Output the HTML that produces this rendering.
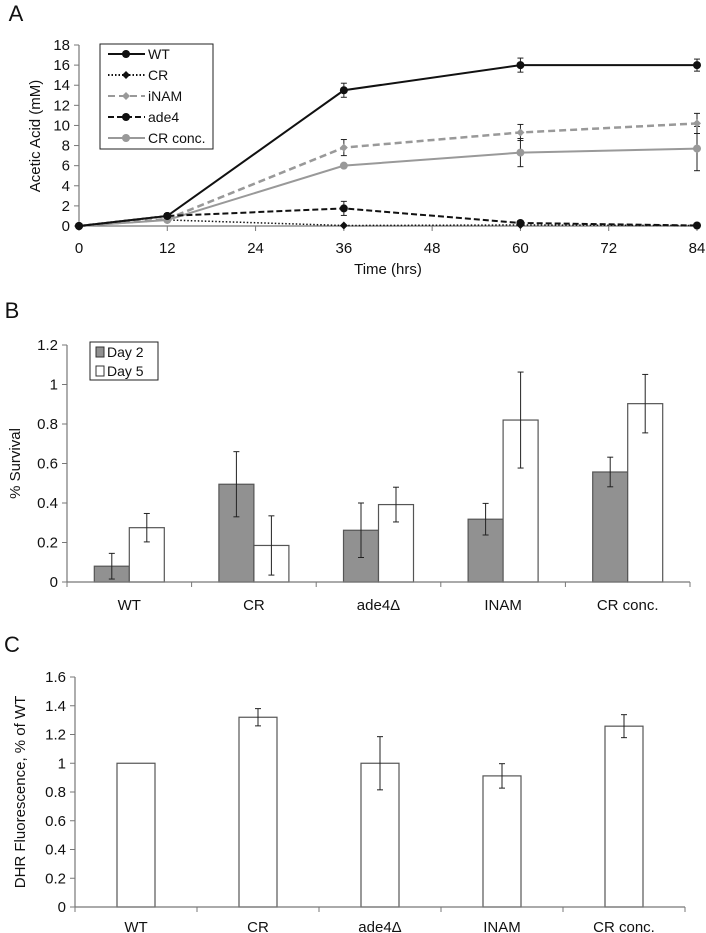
<!DOCTYPE html>
<html><head><meta charset="utf-8"><style>
body{margin:0;background:#fff}
svg{display:block;font-family:"Liberation Sans",sans-serif}
text{fill:#111}
</style></head><body>
<svg id="fig" width="706" height="933" viewBox="0 0 706 933" xmlns="http://www.w3.org/2000/svg">
<g id="A"></g>
<g id="B"></g>
<g id="C"></g>
</svg>
<script>
// Panel A data
const timesA = [0, 12, 36, 60, 84];
const wtA = [0, 1.0, 13.5, 16.0, 16.0];
const wtErr = [0, 0.2, 0.7, 0.7, 0.6];
const crA = [0, 0.6, 0.05, 0.1, 0.05];
const crErr = [0, 0, 0, 0, 0];
const inamA = [0, 0.7, 7.8, 9.3, 10.2];
const inamErr = [0, 0, 0.8, 0.8, 1.0];
const ade4A = [0, 1.0, 1.75, 0.3, 0.05];
const ade4Err = [0, 0, 0.7, 0.2, 0];
const crconcA = [0, 0.6, 6.0, 7.3, 7.7];
const crconcErr = [0, 0, 0, 1.4, 2.2];
const xTicksA = [0, 12, 24, 36, 48, 60, 72, 84];
const yTicksA = [0, 2, 4, 6, 8, 10, 12, 14, 16, 18];
// Panel B data
const catsB = ["WT", "CR", "ade4\u0394", "INAM", "CR conc."];
const day2 = [0.08, 0.495, 0.262, 0.318, 0.557];
const day2Err = [0.065, 0.165, 0.138, 0.08, 0.075];
const day5 = [0.275, 0.185, 0.392, 0.82, 0.903];
const day5Err = [0.072, 0.15, 0.088, 0.243, 0.148];
const yTicksB = ["0", "0.2", "0.4", "0.6", "0.8", "1", "1.2"];
// Panel C data
const catsC = ["WT", "CR", "ade4\u0394", "INAM", "CR conc."];
const dhr = [1.0, 1.32, 1.0, 0.912, 1.258];
const dhrErr = [0, 0.06, 0.185, 0.085, 0.08];
const yTicksC = ["0", "0.2", "0.4", "0.6", "0.8", "1", "1.2", "1.4", "1.6"];

const FS = 15;
const NS = "http://www.w3.org/2000/svg";
function mk(parent, tag, attrs, txt) {
  const e = document.createElementNS(NS, tag);
  for (const k in attrs) e.setAttribute(k, attrs[k]);
  if (txt !== undefined) e.textContent = txt;
  parent.appendChild(e);
  return e;
}
function lin(d0, d1, r0, r1) { return v => r0 + (v - d0) * (r1 - r0) / (d1 - d0); }

// ---------- Panel A ----------
(function () {
  const g = document.getElementById('A');
  const x = lin(0, 84, 79, 697), y = lin(0, 18, 226, 45);
  let t = mk(g, 'text', {x: 16, y: 21, 'font-size': 22, 'text-anchor': 'middle'}, 'A');
   
  let ax = mk(g, 'line', {x1: x(0), y1: y(0), x2: x(84), y2: y(0), stroke: '#777', 'stroke-width': 1.2});
   
  let ay = mk(g, 'line', {x1: x(0), y1: y(0), x2: x(0), y2: y(18), stroke: '#777', 'stroke-width': 1.2});
   
  xTicksA.forEach(v => {
    mk(g, 'line', {x1: x(v), y1: y(0), x2: x(v), y2: y(0) + 5, stroke: '#777'});
    let l = mk(g, 'text', {x: x(v), y: 253, 'font-size': FS, 'text-anchor': 'middle'}, String(v));
     
  });
  yTicksA.forEach(v => {
    mk(g, 'line', {x1: x(0) - 5, y1: y(v), x2: x(0), y2: y(v), stroke: '#777'});
    let l = mk(g, 'text', {x: 70, y: y(v) + 5, 'font-size': FS, 'text-anchor': 'end'}, String(v));
     
  });
  t = mk(g, 'text', {x: 388, y: 274, 'font-size': FS, 'text-anchor': 'middle'}, 'Time (hrs)');
   
  t = mk(g, 'text', {x: 0, y: 0, 'font-size': FS, 'text-anchor': 'middle', transform: 'translate(40,136) rotate(-90)'}, 'Acetic Acid (mM)');
   

  const series = [
    {name: 'cr', vals: crA, err: crErr, color: '#111', dash: '1.5,2', w: 1.5, marker: 'diamond'},
    {name: 'crconc', vals: crconcA, err: crconcErr, color: '#999', dash: '', w: 2, marker: 'circle'},
    {name: 'inam', vals: inamA, err: inamErr, color: '#999', dash: '7,4', w: 2.5, marker: 'diamond'},
    {name: 'ade4', vals: ade4A, err: ade4Err, color: '#111', dash: '6,3', w: 2, marker: 'circle'},
    {name: 'wt', vals: wtA, err: wtErr, color: '#111', dash: '', w: 2, marker: 'circle'}
  ];
  series.forEach(s => {
    s.vals.forEach((v, i) => {
      if (s.err[i] > 0) {
        const cx = x(timesA[i]);
        mk(g, 'line', {x1: cx, y1: y(v - s.err[i]), x2: cx, y2: y(v + s.err[i]), stroke: '#222', 'stroke-width': 1});
        mk(g, 'line', {x1: cx - 3, y1: y(v - s.err[i]), x2: cx + 3, y2: y(v - s.err[i]), stroke: '#222'});
        mk(g, 'line', {x1: cx - 3, y1: y(v + s.err[i]), x2: cx + 3, y2: y(v + s.err[i]), stroke: '#222'});
      }
    });
    const pts = s.vals.map((v, i) => x(timesA[i]) + ',' + y(v)).join(' ');
    const pl = mk(g, 'polyline', {points: pts, fill: 'none', stroke: s.color, 'stroke-width': s.w, 'stroke-dasharray': s.dash});
     
    s.vals.forEach((v, i) => {
      const cx = x(timesA[i]), cy = y(v);
      let m;
      if (s.marker === 'circle') m = mk(g, 'circle', {cx: cx, cy: cy, r: 4, fill: s.color});
      else m = mk(g, 'path', {d: `M${cx},${cy-4}L${cx+4},${cy}L${cx},${cy+4}L${cx-4},${cy}Z`, fill: s.color});
       
    });
  });
  const lg = mk(g, 'g', {});
   
  mk(lg, 'rect', {x: 100, y: 44, width: 113, height: 105, fill: '#fff', stroke: '#222', 'stroke-width': 1});
  const leg = [['WT', '#111', '', 'circle'], ['CR', '#111', '1.5,2', 'diamond'], ['iNAM', '#999', '7,4', 'diamond'], ['ade4', '#111', '6,3', 'circle'], ['CR conc.', '#999', '', 'circle']];
  leg.forEach((L, i) => {
    const ly = 54 + i * 21;
    const e = mk(lg, 'g', {});
     
    mk(e, 'line', {x1: 108, y1: ly, x2: 145, y2: ly, stroke: L[1], 'stroke-width': 2, 'stroke-dasharray': L[2]});
    if (L[3] === 'circle') mk(e, 'circle', {cx: 126, cy: ly, r: 4, fill: L[1]});
    else mk(e, 'path', {d: `M126,${ly-4}L130,${ly}L126,${ly+4}L122,${ly}Z`, fill: L[1]});
    mk(e, 'text', {x: 148, y: ly + 5, 'font-size': 14}, L[0]);
  });
})();

function barPanel(gid, cats, seriesList, ticks, yMax, y0px, yTopPx, x0, x1, labelY, title, titleX, panelLbl, panelY) {
  const g = document.getElementById(gid);
  const y = lin(0, yMax, y0px, yTopPx);
  const cw = (x1 - x0) / cats.length;
  let t = mk(g, 'text', {x: 12, y: panelY, 'font-size': 22, 'text-anchor': 'middle'}, panelLbl);
   
  ticks.forEach(s => {
    const v = parseFloat(s);
    mk(g, 'line', {x1: x0 - 5, y1: y(v), x2: x0, y2: y(v), stroke: '#777'});
    let l = mk(g, 'text', {x: x0 - 9, y: y(v) + 5, 'font-size': FS, 'text-anchor': 'end'}, s);
     
  });
  t = mk(g, 'text', {x: 0, y: 0, 'font-size': FS, 'text-anchor': 'middle', transform: `translate(${titleX},${(y0px + yTopPx) / 2}) rotate(-90)`}, title);
   
  const n = seriesList.length, bw = n === 1 ? 38 : 35;
  cats.forEach((c, i) => {
    const cx = x0 + cw * (i + 0.5);
    seriesList.forEach((s, j) => {
      const bx = cx - n * bw / 2 + j * bw;
      const r = mk(g, 'rect', {x: bx, y: y(s.vals[i]), width: bw, height: y(0) - y(s.vals[i]), fill: s.fill, stroke: '#555', 'stroke-width': 1.2});
       
      const e = s.err[i];
      if (e > 0) {
        const ex = bx + bw / 2;
        mk(g, 'line', {x1: ex, y1: y(s.vals[i] - e), x2: ex, y2: y(s.vals[i] + e), stroke: '#222'});
        mk(g, 'line', {x1: ex - 3, y1: y(s.vals[i] - e), x2: ex + 3, y2: y(s.vals[i] - e), stroke: '#222'});
        mk(g, 'line', {x1: ex - 3, y1: y(s.vals[i] + e), x2: ex + 3, y2: y(s.vals[i] + e), stroke: '#222'});
      }
    });
    let l = mk(g, 'text', {x: cx, y: labelY, 'font-size': FS, 'text-anchor': 'middle'}, c);
     
  });
  for (let i = 0; i <= cats.length; i++) mk(g, 'line', {x1: x0 + cw * i, y1: y0px, x2: x0 + cw * i, y2: y0px + 5, stroke: '#777'});
  let ax = mk(g, 'line', {x1: x0, y1: y0px, x2: x1, y2: y0px, stroke: '#777', 'stroke-width': 1.2});
   
  let ay = mk(g, 'line', {x1: x0, y1: y0px, x2: x0, y2: yTopPx, stroke: '#777', 'stroke-width': 1.2});
   
  return g;
}
const gB = barPanel('B', catsB, [{name: 'day2', vals: day2, err: day2Err, fill: '#919191'}, {name: 'day5', vals: day5, err: day5Err, fill: '#fff'}],
  yTicksB, 1.2, 582, 345, 67, 690, 610, '% Survival', 20, 'B', 318);
(function () {
  const lg = mk(gB, 'g', {});
   
  mk(lg, 'rect', {x: 90, y: 342, width: 68, height: 38, fill: '#fff', stroke: '#222'});
  const e1 = mk(lg, 'g', {});
   
  mk(e1, 'rect', {x: 96, y: 347, width: 8, height: 10, fill: '#919191', stroke: '#333'});
  mk(e1, 'text', {x: 107, y: 357, 'font-size': 14}, 'Day 2');
  const e2 = mk(lg, 'g', {});
   
  mk(e2, 'rect', {x: 96, y: 366, width: 8, height: 10, fill: '#fff', stroke: '#333'});
  mk(e2, 'text', {x: 107, y: 376, 'font-size': 14}, 'Day 5');
})();
barPanel('C', catsC, [{name: 'dhr', vals: dhr, err: dhrErr, fill: '#fff'}],
  yTicksC, 1.6, 907, 677, 75, 685, 932, 'DHR Fluorescence, % of WT', 25, 'C', 652);
</script>
</body></html>
